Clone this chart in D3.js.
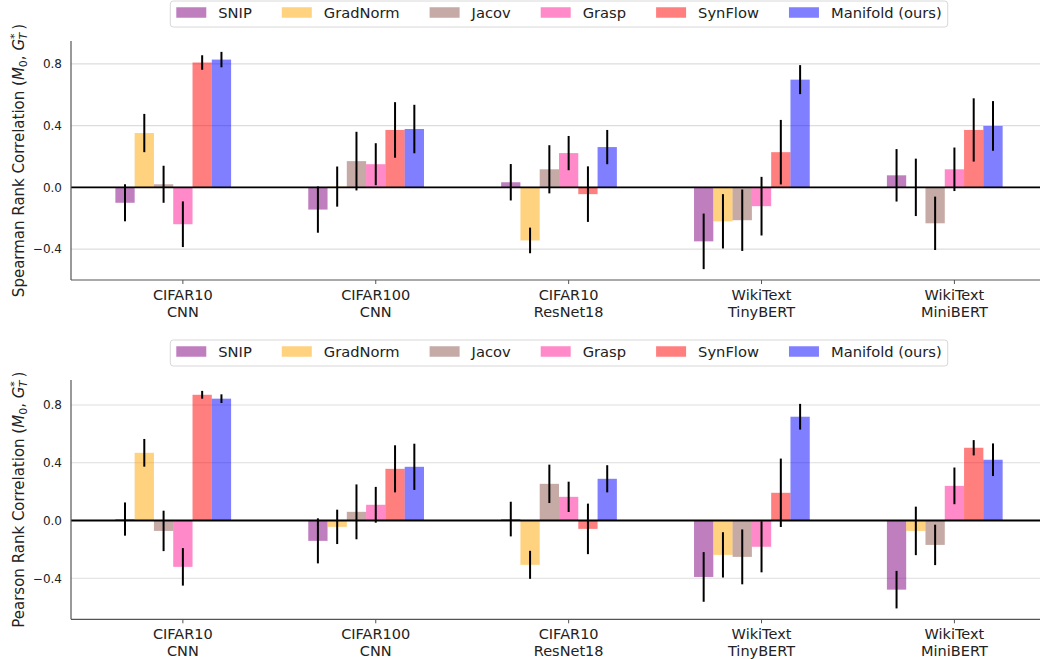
<!DOCTYPE html>
<html>
<head>
<meta charset="utf-8">
<script src="https://cdn.jsdelivr.net/npm/d3@7"></script>
<style>
  body { margin: 0; background: #fff; }
  svg { font-family: "DejaVu Sans", sans-serif; display: block; }
</style>
</head>
<body>
<svg id="chart" width="1040" height="659"></svg>
<script>
// categories (two-line tick labels)
const categories = [
    ["CIFAR10", "CNN"],
    ["CIFAR100", "CNN"],
    ["CIFAR10", "ResNet18"],
    ["WikiText", "TinyBERT"],
    ["WikiText", "MiniBERT"]
];
const methods = ["SNIP", "GradNorm", "Jacov", "Grasp", "SynFlow", "Manifold (ours)"];
const colors = ["#800080", "#ffa500", "#8c564b", "#ff1493", "#ff0000", "#0000ff"];
const yTicks = [-0.4, 0.0, 0.4, 0.8];

// one row per method, one value per category
const spearmanMean = [
    [-0.10, -0.144, 0.033, -0.35, 0.078],
    [0.352, 0.005, -0.344, -0.22, 0.0],
    [0.02, 0.17, 0.117, -0.213, -0.233],
    [-0.239, 0.15, 0.222, -0.122, 0.117],
    [0.809, 0.372, -0.044, 0.228, 0.372],
    [0.828, 0.378, 0.261, 0.698, 0.398]
];
const spearmanErr = [
    [0.12, 0.15, 0.118, 0.18, 0.17],
    [0.124, 0.13, 0.083, 0.176, 0.186],
    [0.12, 0.19, 0.156, 0.199, 0.173],
    [0.148, 0.136, 0.111, 0.19, 0.141],
    [0.047, 0.18, 0.18, 0.209, 0.205],
    [0.05, 0.157, 0.111, 0.094, 0.161]
];
const pearsonMean = [
    [0.01, -0.141, 0.01, -0.391, -0.479],
    [0.469, -0.044, -0.307, -0.238, -0.072],
    [-0.072, 0.06, 0.254, -0.252, -0.169],
    [-0.321, 0.109, 0.164, -0.182, 0.24],
    [0.871, 0.358, -0.058, 0.192, 0.504],
    [0.844, 0.372, 0.289, 0.719, 0.421]
];
const pearsonErr = [
    [0.115, 0.156, 0.12, 0.172, 0.13],
    [0.096, 0.119, 0.097, 0.157, 0.168],
    [0.14, 0.19, 0.133, 0.19, 0.14],
    [0.13, 0.124, 0.105, 0.177, 0.127],
    [0.027, 0.163, 0.175, 0.237, 0.053],
    [0.03, 0.16, 0.094, 0.089, 0.113]
];

const svg = d3.select("#chart");
const barW = 0.1;
const axLeft = 71, axRight = 1047;

drawPanel({ top: 41, bottom: 280, legendY: 1, name: "Spearman", mean: spearmanMean, err: spearmanErr });
drawPanel({ top: 380, bottom: 619.3, legendY: 340, name: "Pearson", mean: pearsonMean, err: pearsonErr });

function drawPanel(p) {
    const g = svg.append("g");

    // x extent like matplotlib: bars plus 5% margin
    const x0 = 0 + (0 - 3) * barW - barW / 2;
    const x1 = (categories.length - 1) + (5 - 3) * barW + barW / 2;
    const xm = (x1 - x0) * 0.05;
    const x = d3.scaleLinear().domain([x0 - xm, x1 + xm]).range([axLeft, axRight]);

    let lo = Infinity, hi = -Infinity;
    p.mean.forEach((row, j) => row.forEach((v, i) => {
        lo = Math.min(lo, v - p.err[j][i], v);
        hi = Math.max(hi, v + p.err[j][i], v);
    }));
    const ym = (hi - lo) * 0.05;
    const y = d3.scaleLinear().domain([lo - ym, hi + ym]).range([p.bottom, p.top]);

    // grid
    g.append("g").selectAll("line")
        .data(yTicks)
        .enter().append("line")
        .attr("x1", axLeft).attr("x2", axRight)
        .attr("y1", d => y(d)).attr("y2", d => y(d))
        .attr("stroke", "#dddddd")
        .attr("stroke-width", 1.2);

    // y tick labels
    g.append("g").selectAll("text")
        .data(yTicks)
        .enter().append("text")
        .attr("x", 62)
        .attr("y", d => y(d))
        .attr("dy", "0.36em")
        .attr("text-anchor", "end")
        .style("font-size", "12px")
        .attr("fill", "#222")
        .text(d => d3.format(".1f")(d).replace("-", "\u2212"));

    // bars
    methods.forEach((m, j) => {
        const data = p.mean[j].map((v, i) => ({ i, v, e: p.err[j][i] }));
        g.append("g").selectAll("rect")
            .data(data)
            .enter().append("rect")
            .attr("x", d => x(d.i + (j - 3) * barW - barW / 2))
            .attr("width", x(barW) - x(0))
            .attr("y", d => y(Math.max(0, d.v)))
            .attr("height", d => Math.abs(y(d.v) - y(0)))
            .attr("fill", colors[j])
            .attr("fill-opacity", 0.5);
    });

    // zero line
    g.append("line")
        .attr("x1", axLeft).attr("x2", axRight)
        .attr("y1", y(0)).attr("y2", y(0))
        .attr("stroke", "#000")
        .attr("stroke-width", 1.8);

    // error bars
    methods.forEach((m, j) => {
        const data = p.mean[j].map((v, i) => ({ i, v, e: p.err[j][i] }));
        g.append("g").selectAll("line")
            .data(data)
            .enter().append("line")
            .attr("x1", d => x(d.i + (j - 3) * barW))
            .attr("x2", d => x(d.i + (j - 3) * barW))
            .attr("y1", d => y(d.v + d.e))
            .attr("y2", d => y(d.v - d.e))
            .attr("stroke", "#000")
            .attr("stroke-width", 2);
    });

    // spines
    g.append("line")
        .attr("x1", axLeft).attr("x2", axLeft)
        .attr("y1", p.top).attr("y2", p.bottom)
        .attr("stroke", "#555").attr("stroke-width", 1.2);
    g.append("line")
        .attr("x1", axLeft).attr("x2", axRight)
        .attr("y1", p.bottom).attr("y2", p.bottom)
        .attr("stroke", "#555").attr("stroke-width", 1.2);

    // x ticks + labels
    const xt = g.append("g").selectAll("g")
        .data(categories)
        .enter().append("g")
        .attr("transform", (d, i) => `translate(${x(i)},${p.bottom})`);
    xt.append("line")
        .attr("y1", 0).attr("y2", 4)
        .attr("stroke", "#555").attr("stroke-width", 1);
    xt.append("text")
        .attr("text-anchor", "middle")
        .style("font-size", "14.5px")
        .attr("fill", "#222")
        .selectAll("tspan")
        .data(d => d)
        .enter().append("tspan")
        .attr("x", 0)
        .attr("y", (d, k) => 20 + k * 16.5)
        .text(d => d);

    // y label
    const midY = (p.top + p.bottom) / 2;
    const yl = g.append("text")
        .attr("transform", `translate(24,${midY}) rotate(-90)`)
        .attr("text-anchor", "middle")
        .style("font-size", "15px")
        .attr("fill", "#222");
    yl.append("tspan").text(p.name + " Rank Correlation (");
    yl.append("tspan").style("font-style", "italic").text("M");
    yl.append("tspan").attr("dy", 3).style("font-size", "11px").text("0");
    yl.append("tspan").attr("dy", -3).text(", ");
    yl.append("tspan").style("font-style", "italic").text("G");
    yl.append("tspan").attr("dy", -6).style("font-size", "11px").text("*");
    yl.append("tspan").attr("dx", -6).attr("dy", 9).style("font-size", "11px").style("font-style", "italic").text("T");
    yl.append("tspan").attr("dx", 3).attr("dy", -3).text(")");

    // legend
    const lg = g.append("g");
    const box = lg.append("rect");
    let cx = 0;
    const items = [];
    methods.forEach((m, j) => {
        const it = lg.append("g");
        it.append("rect")
            .attr("x", 0).attr("y", -5.25)
            .attr("width", 30).attr("height", 10.5)
            .attr("fill", colors[j]).attr("fill-opacity", 0.5);
        const t = it.append("text")
            .attr("x", 42).attr("dy", "0.36em")
            .style("font-size", "14.7px")
            .attr("fill", "#222")
            .text(m);
        const w = 42 + t.node().getComputedTextLength();
        items.push({ it, off: cx });
        cx += w + 30;
    });
    const totalW = cx - 30 + 12;
    const left = (axLeft + axRight) / 2 - totalW / 2;
    const cy = p.legendY + 11.5;
    items.forEach(d => d.it.attr("transform", `translate(${left + 6 + d.off},${cy})`));
    box.attr("x", left).attr("y", p.legendY)
        .attr("width", totalW).attr("height", 26)
        .attr("rx", 3)
        .attr("fill", "#fff").attr("fill-opacity", 0.8)
        .attr("stroke", "#d8d8d8").attr("stroke-width", 1);
}
</script>
</body>
</html>
